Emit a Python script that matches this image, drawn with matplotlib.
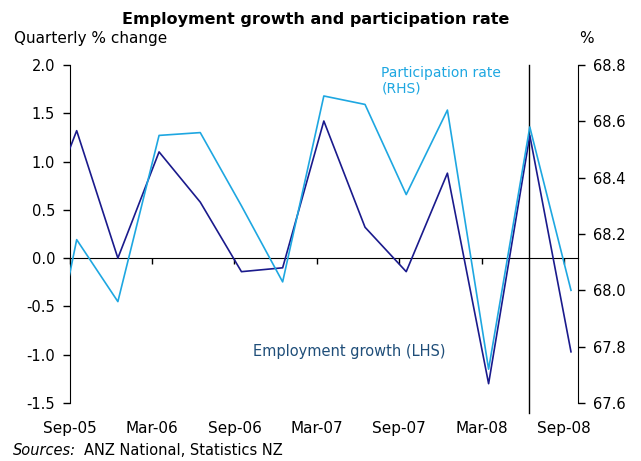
import matplotlib
matplotlib.use("Agg")
import matplotlib.pyplot as plt

# ── Data (quarterly, Jun-05 is clipped off the left edge) ────────────────
quarters = ["Jun-05", "Sep-05", "Dec-05", "Mar-06", "Jun-06", "Sep-06", "Dec-06",
            "Mar-07", "Jun-07", "Sep-07", "Dec-07", "Mar-08", "Jun-08", "Sep-08"]
employment_growth = [0.21, 1.32, 0.00, 1.10, 0.58, -0.14, -0.10,
                     1.42, 0.32, -0.14, 0.88, -1.30, 1.27, -0.97]
participation_rate = [67.46, 68.18, 67.96, 68.55, 68.56, 68.30, 68.03,
                      68.69, 68.66, 68.34, 68.64, 67.72, 68.58, 68.00]
tick_labels = ["Sep-05", "Mar-06", "Sep-06", "Mar-07", "Sep-07", "Mar-08", "Sep-08"]
left_ticks = [-1.5, -1.0, -0.5, 0.0, 0.5, 1.0, 1.5, 2.0]
right_ticks = [67.6, 67.8, 68.0, 68.2, 68.4, 68.6, 68.8]

DARK = "#1a1a8c"
LIGHT = "#1ea7e1"
LABEL = "#1f4e79"

x = list(range(-1, len(quarters) - 1))   # Sep-05 at 0
tick_pos = [-0.17 + 2 * k for k in range(len(tick_labels))]
marker_line = 10.97                        # vertical line at Jun-08

fig = plt.figure(figsize=(6.41, 4.61), dpi=100)
ax = fig.add_axes([0.1087, 0.1258, 0.9017 - 0.1087, 0.859 - 0.1258])
ax2 = ax.twinx()

ax.plot(x, employment_growth, color=DARK, lw=1.2, zorder=3)
ax2.plot(x, participation_rate, color=LIGHT, lw=1.2)

ax.set_xlim(-0.17, 12.17)
ax.set_ylim(-1.5, 2.0)
ax2.set_ylim(67.6, 68.8)

# left axis
ax.set_yticks(left_ticks, [f"{v:.1f}" for v in left_ticks])
ax.tick_params(axis="y", direction="out", length=5, width=1, pad=5.5, labelsize=10.5)
# right axis
ax2.set_yticks(right_ticks, [f"{v:.1f}" for v in right_ticks])
ax2.tick_params(axis="y", direction="out", length=5, width=1, pad=6, labelsize=10.5)

for a in (ax, ax2):
    a.spines["top"].set_visible(False)
ax.spines["right"].set_visible(False)
ax2.spines["left"].set_visible(False)
ax2.spines["bottom"].set_visible(False)

# zero line carries the tick marks, labels sit at the bottom
ax.spines["bottom"].set_position(("data", 0))
ax.set_xticks(tick_pos)
ax.tick_params(axis="x", direction="out", length=4, width=1, labelbottom=False)
secax = ax.secondary_xaxis("bottom")
secax.set_xticks(tick_pos, tick_labels)
secax.tick_params(length=0, pad=13, labelsize=11)
secax.spines["bottom"].set_visible(False)

ax.axvline(marker_line, ymin=-0.03, ymax=1.0, color="black", lw=1, clip_on=False)

# annotations
ax.text(0.613, 0.997, "Participation rate\n(RHS)", transform=ax.transAxes,
        color=LIGHT, fontsize=10, va="top", ha="left", linespacing=1.15)
ax.text(0.361, 0.153, "Employment growth (LHS)", transform=ax.transAxes,
        color=LABEL, fontsize=10.5, va="center", ha="left")

fig.text(0.493, 0.958, "Employment growth and participation rate",
         fontsize=11.5, fontweight="bold", ha="center", va="center")
fig.text(0.022, 0.917, "Quarterly % change", fontsize=11, ha="left", va="center")
fig.text(0.903, 0.917, "%", fontsize=11, ha="left", va="center")

src = fig.text(0.02, 0.023, "Sources:", fontsize=10.5, style="italic", ha="left", va="center")
fig.canvas.draw()
bb = src.get_window_extent().transformed(fig.transFigure.inverted())
fig.text(bb.x1 + 0.012, 0.023, "ANZ National, Statistics NZ", fontsize=10.5,
         ha="left", va="center")

fig.savefig("out.png", dpi=100)
